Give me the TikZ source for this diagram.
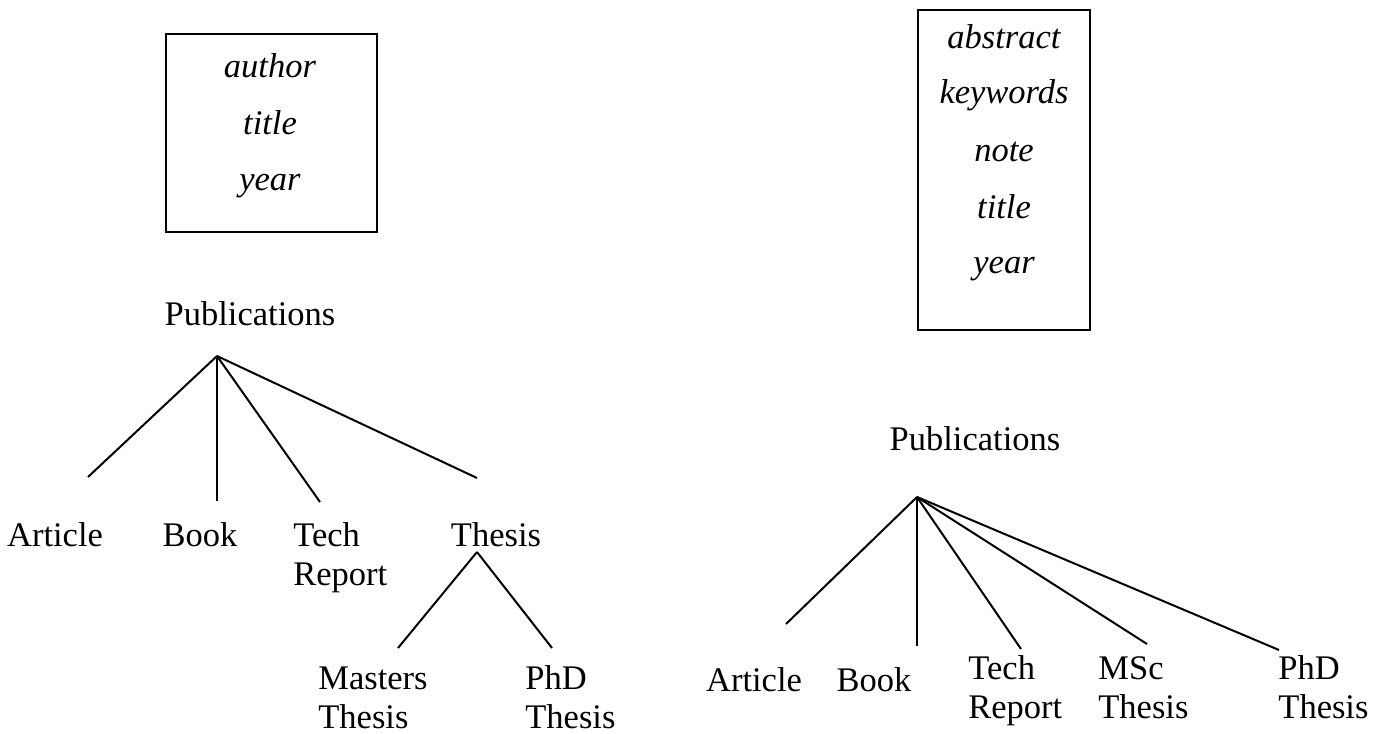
\documentclass[tikz,border=0pt]{standalone}
\usepackage{fontspec}
\setmainfont{Liberation Serif}
\begin{document}
\begin{tikzpicture}[x=0.5pt,y=-0.5pt,
  lbl/.style={inner sep=0pt, font=\fontsize{17.25}{19.5}\selectfont},
  fld/.style={inner sep=0pt, font=\fontsize{17.25}{19.5}\selectfont\itshape, anchor=base},
  multi/.style={lbl, align=left, anchor=base west},
  single/.style={lbl, anchor=base},
  edge/.style={line width=1pt},
  frame/.style={draw, line width=1pt, inner sep=0pt}]
\useasboundingbox (0,0) rectangle (1385,733);

% ---- left attribute box
\node[frame, minimum width=105.5pt, minimum height=99pt] (boxL) at (271.5,133) {};
\node[fld] (fAuthor) at (270,78) {author};
\node[fld] (fTitleL) at (270,134) {title};
\node[fld] (fYearL) at (270,190) {year};

% ---- right attribute box
\node[frame, minimum width=86pt, minimum height=160pt] (boxR) at (1004,170) {};
\node[fld] (fAbstract) at (1004,49) {abstract};
\node[fld] (fKeywords) at (1004,104) {keywords};
\node[fld] (fNote) at (1004,162) {note};
\node[fld] (fTitleR) at (1004,218) {title};
\node[fld] (fYearR) at (1004,273) {year};

% ---- left hierarchy (multi-line nodes: base = last line)
\node[single] (pubL) at (250,325) {Publications};
\node[single] (artL) at (55,546) {Article};
\node[single] (bookL) at (200,546) {Book};
\node[multi] (techL) at (293,585) {Tech\\Report};
\node[single] (thesisL) at (496,546) {Thesis};
\node[multi] (mastersL) at (318,728) {Masters\\Thesis};
\node[multi] (phdL) at (525,728) {PhD\\Thesis};

\coordinate (rootL) at (217,356);
\coordinate (artLt) at (88,477);
\coordinate (bookLt) at (217,501);
\coordinate (techLt) at (320,502);
\coordinate (thesisLt) at (477,478);
\coordinate (thesisLb) at (477,552);
\coordinate (mastersLt) at (398,648);
\coordinate (phdLt) at (552,648);

\draw[edge] (rootL) -- (artLt);
\draw[edge] (rootL) -- (bookLt);
\draw[edge] (rootL) -- (techLt);
\draw[edge] (rootL) -- (thesisLt);
\draw[edge] (thesisLb) -- (mastersLt);
\draw[edge] (thesisLb) -- (phdLt);

% ---- right hierarchy
\node[single] (pubR) at (975,450) {Publications};
\node[single] (artR) at (754,691) {Article};
\node[single] (bookR) at (874,691) {Book};
\node[multi] (techR) at (968,718) {Tech\\Report};
\node[multi] (mscR) at (1098,718) {MSc\\Thesis};
\node[multi] (phdR) at (1278,718) {PhD\\Thesis};

\coordinate (rootR) at (917,497);
\coordinate (artRt) at (786,624);
\coordinate (bookRt) at (917,646);
\coordinate (techRt) at (1021,649);
\coordinate (mscRt) at (1147,644);
\coordinate (phdRt) at (1279,650);

\draw[edge] (rootR) -- (artRt);
\draw[edge] (rootR) -- (bookRt);
\draw[edge] (rootR) -- (techRt);
\draw[edge] (rootR) -- (mscRt);
\draw[edge] (rootR) -- (phdRt);
\end{tikzpicture}
\end{document}
